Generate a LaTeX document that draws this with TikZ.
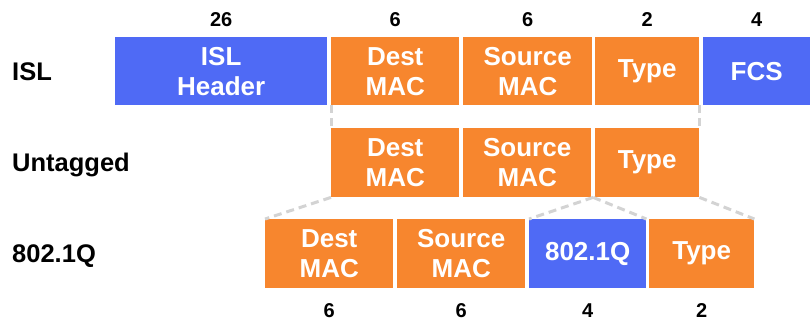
\documentclass[tikz,border=0pt]{standalone}
\usepackage{fontspec}
\setmainfont{Liberation Sans}
\usetikzlibrary{calc}
\definecolor{islblue}{RGB}{79,106,245}
\definecolor{macorange}{RGB}{247,134,46}
\definecolor{dashgray}{RGB}{211,211,211}
\begin{document}
\begin{tikzpicture}[x=1pt,y=-1pt,
  field/.style={anchor=north west, inner sep=0pt, text=white, align=center,
    font=\fontsize{26}{30}\selectfont\bfseries},
  bluefield/.style={field, fill=islblue},
  orangefield/.style={field, fill=macorange},
  size/.style={inner sep=0pt, font=\fontsize{20}{24}\selectfont\bfseries},
  rowlabel/.style={anchor=base west, inner sep=0pt, font=\fontsize{25.5}{30}\selectfont\bfseries},
  guide/.style={draw=dashgray, line width=3pt, dash pattern=on 8pt off 5pt}]
\useasboundingbox (0,0) rectangle (811,322);

% row labels
\node[rowlabel] (lisl) at (12,80) {ISL};
\node[rowlabel] (lun) at (12,171) {Untagged};
\node[rowlabel] (lq) at (12,262) {802.1Q};

% ISL row
\node[bluefield, minimum width=212pt, minimum height=68pt] (i1) at (115,37) {ISL\\Header};
\node[orangefield, minimum width=128pt, minimum height=68pt] (i2) at (331,37) {Dest\\MAC};
\node[orangefield, minimum width=129pt, minimum height=68pt] (i3) at (463,37) {Source\\MAC};
\node[orangefield, minimum width=104pt, minimum height=68pt] (i4) at (595,37) {Type};
\node[bluefield, minimum width=107pt, minimum height=68pt] (i5) at (703,37) {FCS};

% Untagged row
\node[orangefield, minimum width=128pt, minimum height=69pt] (u1) at (331,128) {Dest\\MAC};
\node[orangefield, minimum width=128pt, minimum height=69pt] (u2) at (463,128) {Source\\MAC};
\node[orangefield, minimum width=104pt, minimum height=69pt] (u3) at (595,128) {Type};

% 802.1Q row
\node[orangefield, minimum width=128pt, minimum height=69pt] (q1) at (265,219) {Dest\\MAC};
\node[orangefield, minimum width=128pt, minimum height=69pt] (q2) at (397,219) {Source\\MAC};
\node[bluefield, minimum width=117pt, minimum height=69pt] (q3) at (529,219) {802.1Q};
\node[orangefield, minimum width=105pt, minimum height=69pt] (q4) at (649,219) {Type};

% sizes on top
\node[size] (s1) at ($(i1.north)+(0,-17.5)$) {26};
\node[size] (s2) at ($(i2.north)+(0,-17.5)$) {6};
\node[size] (s3) at ($(i3.north)+(0,-17.5)$) {6};
\node[size] (s4) at ($(i4.north)+(0,-17.5)$) {2};
\node[size] (s5) at ($(i5.north)+(0,-17.5)$) {4};

% sizes at bottom
\node[size] (b1) at ($(q1.south)+(0,22)$) {6};
\node[size] (b2) at ($(q2.south)+(0,22)$) {6};
\node[size] (b3) at ($(q3.south)+(0,22)$) {4};
\node[size] (b4) at ($(q4.south)+(0,22)$) {2};

% guides
\coordinate (split) at ($(u2.south east)!0.5!(u3.south west)$);
\draw[guide] (i2.south west) -- (u1.north west);
\draw[guide] (i4.south east) -- (u3.north east);
\draw[guide] (u1.south west) -- (q1.north west);
\draw[guide] (split) -- (q3.north west);
\draw[guide] (split) -- (q3.north east);
\draw[guide] (u3.south east) -- (q4.north east);
\end{tikzpicture}
\end{document}
